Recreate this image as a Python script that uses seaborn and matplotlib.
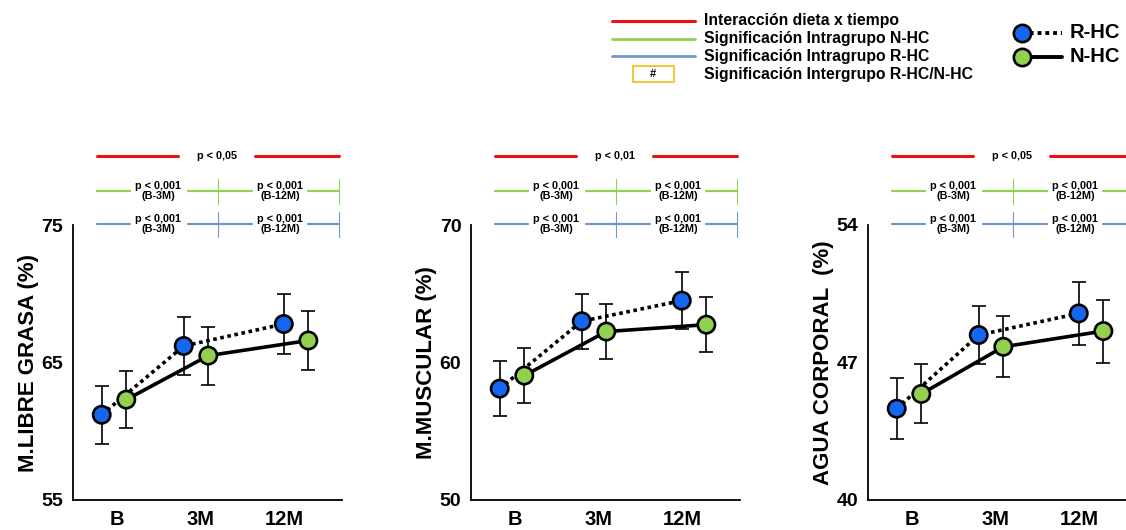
import matplotlib
matplotlib.use("Agg")
import matplotlib.pyplot as plt
import seaborn as sns
import pandas as pd
import numpy as np
from matplotlib.patches import Rectangle

# Datos
momentos = ["B", "3M", "12M"]
grupos = ["R-HC", "N-HC"]

titulos = ["M.LIBRE GRASA (%)", "M.MUSCULAR (%)", "AGUA CORPORAL  (%)"]
y_limites = [(55, 75), (50, 70), (40, 54)]
y_ticks = [[55, 65, 75], [50, 60, 70], [40, 47, 54]]
p_interaccion = ["p < 0,05", "p < 0,01", "p < 0,05"]

# M. libre grasa
mlg_rhc = [61.2, 66.2, 67.8]
mlg_nhc = [62.3, 65.5, 66.6]
mlg_rhc_err = [2.1, 2.1, 2.2]
mlg_nhc_err = [2.05, 2.1, 2.15]

# M. muscular
mm_rhc = [58.1, 63.0, 64.5]
mm_nhc = [59.05, 62.25, 62.75]
mm_rhc_err = [2.0, 2.0, 2.05]
mm_nhc_err = [2.0, 2.0, 2.0]

# Agua corporal
ac_rhc = [44.65, 48.4, 49.5]
ac_nhc = [45.4, 47.8, 48.6]
ac_rhc_err = [1.55, 1.5, 1.6]
ac_nhc_err = [1.5, 1.55, 1.6]

paneles = [
    (mlg_rhc, mlg_nhc, mlg_rhc_err, mlg_nhc_err),
    (mm_rhc, mm_nhc, mm_rhc_err, mm_nhc_err),
    (ac_rhc, ac_nhc, ac_rhc_err, ac_nhc_err),
]

colores = {"R-HC": "#1467EE", "N-HC": "#92D050"}
trazos = {"R-HC": (1.0, 1.0), "N-HC": ""}

# posiciones en el eje x (B, 3M, 12M) y desplazamiento de cada grupo
x_centro = [0, 1, 2.22]
x_etiqueta = [0.03, 1.06, 2.08]
desplaza = {"R-HC": -0.15, "N-HC": 0.15}

sns.set_style("white")
plt.rcParams['font.family'] = ['Liberation Sans', 'DejaVu Sans']
plt.rcParams['font.weight'] = 'bold'
for clave in ['text.color', 'axes.labelcolor', 'xtick.color', 'ytick.color']:
    plt.rcParams[clave] = 'black'

fig = plt.figure(figsize=(11.26, 5.3), dpi=100)

izquierdas = [73, 471, 868]
ancho_px, alto_px = 269, 275

for i, (rhc, nhc, rhc_e, nhc_e) in enumerate(paneles):
    ax = fig.add_axes([izquierdas[i] / 1126, 30 / 530, ancho_px / 1126, alto_px / 530])

    filas = []
    for g, vals, errs in [("R-HC", rhc, rhc_e), ("N-HC", nhc, nhc_e)]:
        for k, m in enumerate(momentos):
            filas.append({"grupo": g, "momento": m, "x": x_centro[k] + desplaza[g],
                          "valor": vals[k], "err": errs[k]})
    df = pd.DataFrame(filas)

    sns.lineplot(data=df, x="x", y="valor", style="grupo", dashes=trazos,
                 color="black", linewidth=2.6, ax=ax, legend=False, zorder=2,
                 sort=False)
    for g in grupos:
        d = df[df["grupo"] == g]
        ax.errorbar(d["x"], d["valor"], yerr=d["err"], fmt="none",
                    ecolor="black", elinewidth=1.2, capsize=4.8, capthick=1.2, zorder=3)
    sns.scatterplot(data=df, x="x", y="valor", hue="grupo", palette=colores,
                    s=155, edgecolor="black", linewidth=1.9, ax=ax, legend=False, zorder=5)

    ax.set_xlim(-0.5, 2.78)
    ax.set_ylim(*y_limites[i])
    ax.set_yticks(y_ticks[i])
    ax.set_xticks(x_etiqueta)
    ax.set_xticklabels(momentos)
    ax.tick_params(axis="x", length=0, pad=7.5, labelsize=14.5)
    ax.tick_params(axis="y", length=0, pad=7, labelsize=14)
    for lab in ax.get_xticklabels() + ax.get_yticklabels():
        lab.set_fontweight("bold")
    ax.set_xlabel("")
    ax.set_ylabel(titulos[i], fontsize=16, fontweight="bold", labelpad=2)
    for lado in ["top", "right"]:
        ax.spines[lado].set_visible(False)
    for lado in ["left", "bottom"]:
        ax.spines[lado].set_color("black")
        ax.spines[lado].set_linewidth(1.3)

    # bloque de significaciones sobre el panel
    T = ax.transAxes
    f = lambda px: px / ancho_px
    g_ = lambda py: (500 - py) / alto_px
    # interaccion
    ax.plot([f(24), f(105)], [g_(156)] * 2, color="#EE1111", lw=2.2, transform=T, clip_on=False)
    ax.plot([f(182), f(266)], [g_(156)] * 2, color="#EE1111", lw=2.2, transform=T, clip_on=False)
    ax.text(f(144), g_(156), p_interaccion[i], transform=T, ha="center", va="center",
            fontsize=7.8, fontweight="bold")
    # intragrupo N-HC (verde) y R-HC (azul)
    for color, yl in [("#92D050", 191), ("#6F98D0", 224)]:
        for a, b in [(24, 57), (115, 179), (235, 266)]:
            ax.plot([f(a), f(b)], [g_(yl)] * 2, color=color, lw=1.6, transform=T, clip_on=False)
        for xv in [145, 266]:
            ax.plot([f(xv)] * 2, [g_(yl - 12), g_(yl + 13)], color=color, lw=0.8,
                    transform=T, clip_on=False)
        ax.text(f(85), g_(yl), "p < 0,001\n(B-3M)", transform=T, ha="center", va="center",
                fontsize=7.8, fontweight="bold", linespacing=1.05)
        ax.text(f(207), g_(yl), "p < 0,001\n(B-12M)", transform=T, ha="center", va="center",
                fontsize=7.8, fontweight="bold", linespacing=1.05)

# leyendas superiores (coordenadas de figura en pixeles)
lg = fig.add_axes([0, 0, 1, 1], facecolor="none")
lg.set_xlim(0, 1126)
lg.set_ylim(530, 0)
lg.axis("off")

filas_leyenda = [("#EE1111", "Interacción dieta x tiempo"),
                 ("#92D050", "Significación Intragrupo N-HC"),
                 ("#6F98D0", "Significación Intragrupo R-HC"),
                 (None, "Significación Intergrupo R-HC/N-HC")]
for k, (c, txt) in enumerate(filas_leyenda):
    yy = 21 + k * 17.7
    if c is not None:
        lg.plot([612, 695], [yy, yy], color=c, lw=2.2 if k == 0 else 2.0)
    else:
        lg.add_patch(Rectangle((633, yy - 8), 41, 16, fill=False, edgecolor="#F5C020", lw=1.3))
        lg.text(653, yy, "#", ha="center", va="center", fontsize=8, fontweight="bold")
    lg.text(704, yy, txt, ha="left", va="center", fontsize=11.3, fontweight="bold")

for yy, g in [(33, "R-HC"), (57, "N-HC")]:
    lg.plot([1022, 1062], [yy, yy], color="black", lw=2.8,
            linestyle=(0, (1.0, 1.0)) if g == "R-HC" else "-")
    lg.scatter([1022], [yy], s=155, color=colores[g], edgecolor="black", linewidth=1.9, zorder=5)
    lg.text(1070, yy, g, ha="left", va="center", fontsize=14.5, fontweight="bold")

fig.savefig("out.png", dpi=100)
